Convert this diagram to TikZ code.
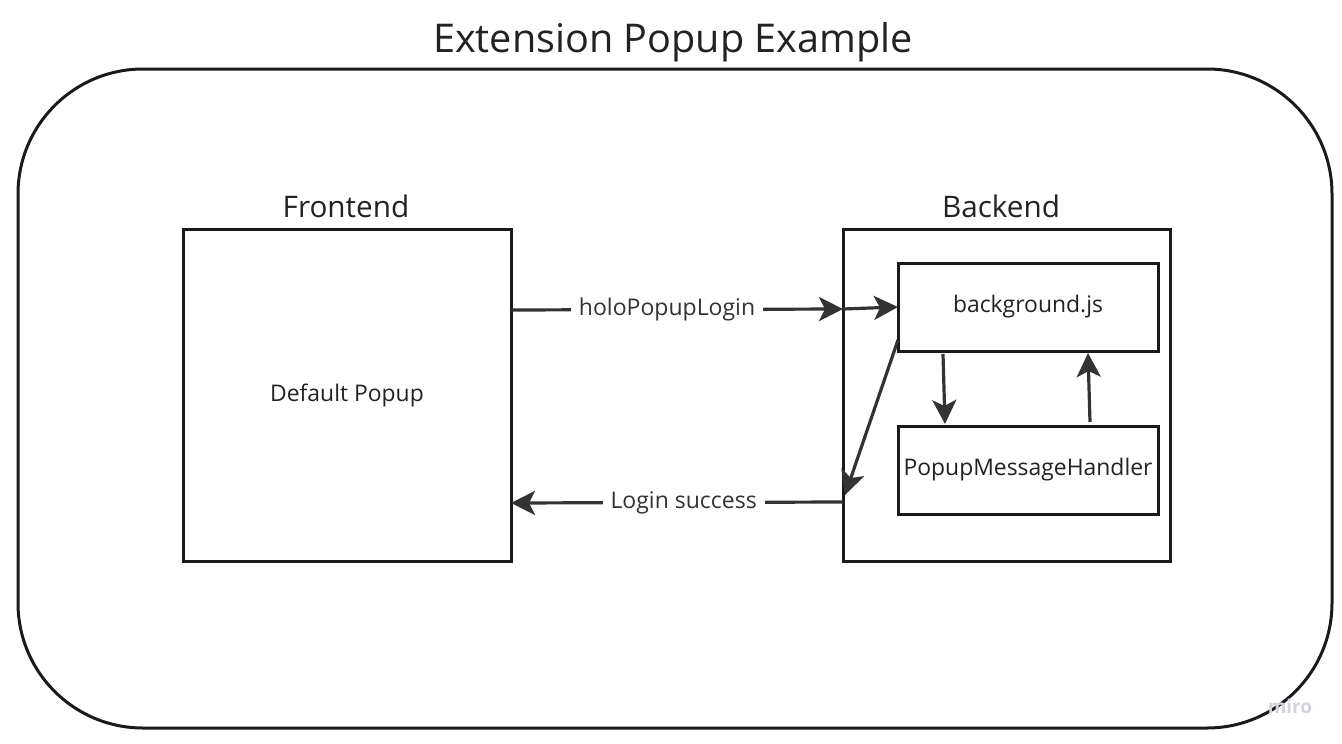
\documentclass[tikz,border=0pt]{standalone}
\usepackage{fontspec}
\setmainfont{Open Sans}
\usetikzlibrary{arrows.meta}
\definecolor{ln}{HTML}{1A1A1A}
\definecolor{ar}{HTML}{333333}
\definecolor{tx}{HTML}{222222}
\definecolor{wm}{HTML}{D2D2E0}
\tikzset{
  box/.style={draw=ln, line width=3pt, minimum width=#1, inner sep=0pt, outer sep=0pt},
  conn/.style={draw=ar, line width=3.2pt, -{Stealth[length=24pt,width=24pt,inset=6pt]}},
  lbl/.style={fill=white, text=ar, font=\fontsize{23}{27}\selectfont, inner xsep=8pt, inner ysep=3pt},
  body/.style={text=tx, font=\fontsize{22.9}{27}\selectfont},
  head/.style={text=tx, font=\fontsize{29.7}{35}\selectfont}
}
\begin{document}
\begin{tikzpicture}[x=1pt,y=-1pt]
\useasboundingbox (0,0) rectangle (1342,744);
\node[draw=ln, line width=3pt, rounded corners=125pt, minimum width=1314pt, minimum height=659pt, inner sep=0pt] (outer) at (675,398.5) {};
\node[text=tx, font=\fontsize{39.6}{46}\selectfont] (title) at (673,42.5) {Extension Popup Example};
\node[box=328pt, minimum height=332pt, body] (front) at (347,395) {Default Popup};
\node[head] (fronth) at (346,206) {Frontend};
\node[box=327pt, minimum height=332pt] (back) at (1006.5,395) {};
\node[head] (backh) at (1001,206) {Backend};
\node[box=260pt, minimum height=88pt, body] (bg) at (1028,307) {background.js};
\node[box=260pt, minimum height=88pt, body] (pmh) at (1028,470) {PopupMessageHandler};
\draw[conn] ([yshift=85pt]front.east) -- node[lbl, pos=0.47] {holoPopupLogin} ([yshift=86pt]back.west);
\draw[conn] ([yshift=86pt]back.west) -- (bg.west);
\draw[conn] ([yshift=-107pt]back.west) -- node[lbl, pos=0.48] {Login success} ([yshift=-108pt]front.east);
\draw[conn] ([yshift=-33pt]bg.west) -- ([xshift=2pt,yshift=-100pt]back.west);
\draw[conn] ([xshift=-85pt,yshift=-3pt]bg.south) -- ([xshift=-83pt,yshift=2pt]pmh.north);
\draw[conn] ([xshift=62pt,yshift=4pt]pmh.north) -- ([xshift=60pt,yshift=-2pt]bg.south);
\node[text=wm, font=\bfseries\fontsize{19}{22}\selectfont] (miro) at (1290,706) {miro};
\end{tikzpicture}
\end{document}
